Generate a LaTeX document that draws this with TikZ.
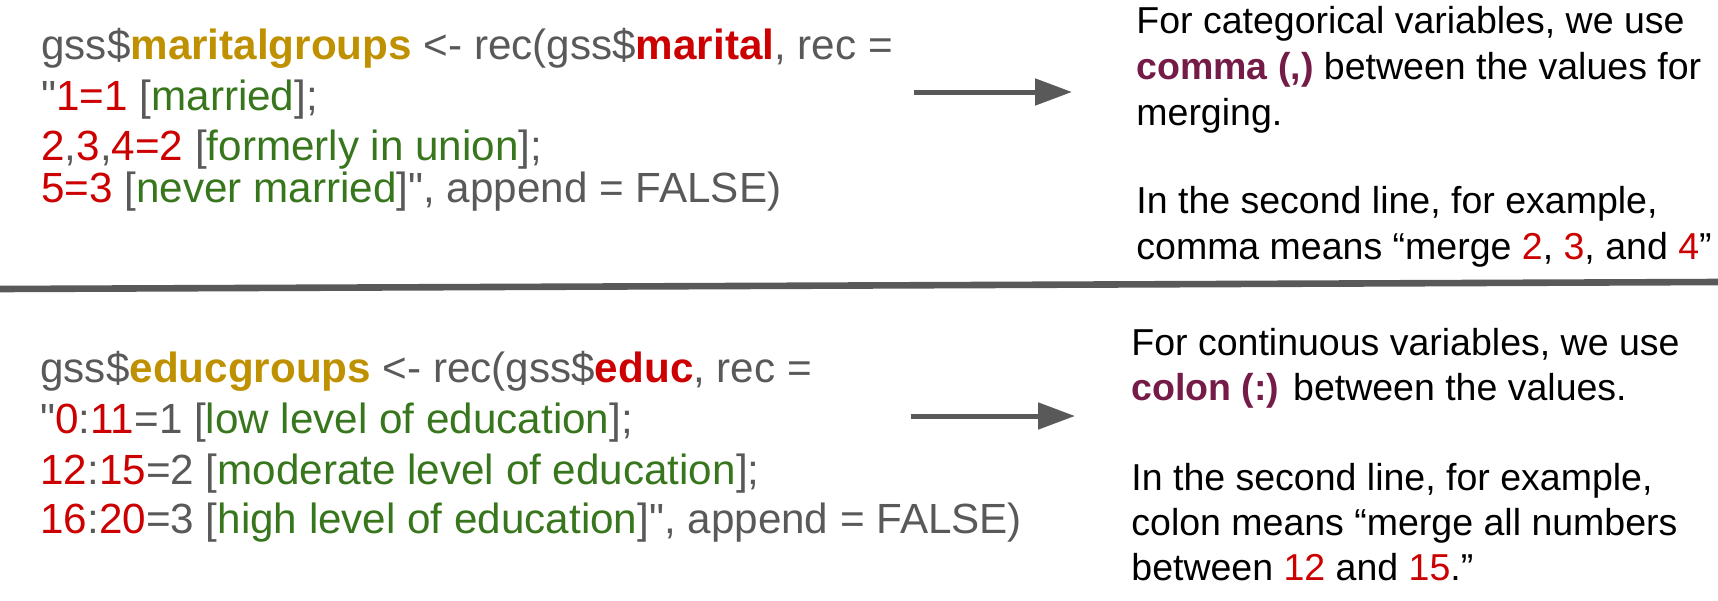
\documentclass[tikz,border=0pt]{standalone}
\usepackage{fontspec}
\setmainfont{Liberation Sans}[Ligatures=TeXOff]
\usetikzlibrary{arrows.meta}
\definecolor{codegray}{HTML}{595959}
\definecolor{codegold}{HTML}{BF9000}
\definecolor{codered}{HTML}{CC0000}
\definecolor{codegreen}{HTML}{38761D}
\definecolor{plum}{HTML}{741B47}
\def\cgold#1{\textcolor{codegold}{\bfseries #1}}
\def\cbred#1{\textcolor{codered}{\bfseries #1}}
\def\cred#1{\textcolor{codered}{#1}}
\def\cgreen#1{\textcolor{codegreen}{#1}}
\def\cplum#1{\textcolor{plum}{\bfseries #1}}

\begin{document}
\begin{tikzpicture}[x=0.5pt, y=-0.5pt,
	code/.style={anchor=base west, inner sep=0pt, text=codegray, font=\fontsize{21.1}{25}\selectfont},
	note/.style={anchor=base west, inner sep=0pt, text=black, font=\fontsize{18.75}{23}\selectfont},
	arr/.style={draw=codegray, line width=2.5pt, -{Triangle[length=18.5pt, width=13pt]}}]
			%%%%% START %%%%%
			\useasboundingbox (0,0) rectangle (1718,600);
			
			% upper half: categorical
			\node[code] (m1) at (41,59) {gss\$\cgold{maritalgroups} <- rec(gss\$\cbred{marital}, rec =};
			\node[code] (m2) at (41,110) {"\cred{1=1} [\cgreen{married}];};
			\node[code] (m3) at (41,160) {\cred{2},\cred{3},\cred{4=2} [\cgreen{formerly in union}];};
			\node[code] (m4) at (41,202) {\cred{5=3} [\cgreen{never married}]", append = FALSE)};
			
			\node[note] (c1) at (1136,33) {For categorical variables, we use};
			\node[note] (c2) at (1136,79) {\cplum{comma (,)} between the values for};
			\node[note] (c3) at (1136,125) {merging.};
			\node[note] (c4) at (1136,213) {In the second line, for example,};
			\node[note] (c5) at (1136,259) {comma means “merge \cred{2}, \cred{3}, and \cred{4}”};
			
			\coordinate (a1) at (914,92);
			\coordinate (b1) at (1072,92);
			\draw[arr] (a1) -- (b1);
			
			% divider
			\coordinate (dl) at (0,289);
			\coordinate (dr) at (1718,282);
			\draw[codegray, line width=3.3pt] (dl) -- (dr);
			
			% lower half: continuous
			\node[code] (e1) at (40,382) {gss\$\cgold{educgroups} <- rec(gss\$\cbred{educ}, rec =};
			\node[code] (e2) at (40,433) {"\cred{0}:\cred{11}=1 [\cgreen{low level of education}];};
			\node[code] (e3) at (40,484) {\cred{12}:\cred{15}=2 [\cgreen{moderate level of education}];};
			\node[code] (e4) at (40,533) {\cred{16}:\cred{20}=3 [\cgreen{high level of education}]", append = FALSE)};
			
			\node[note] (k1) at (1131,355) {For continuous variables, we use};
			\node[note] (k2) at (1131,400) {\cplum{colon (:)} between the values.};
			\node[note] (k3) at (1131,490) {In the second line, for example,};
			\node[note] (k4) at (1131,535) {colon means “merge all numbers};
			\node[note] (k5) at (1131,580) {between \cred{12} and \cred{15}.”};
			
			\coordinate (a2) at (911,416);
			\coordinate (b2) at (1075,416);
			\draw[arr] (a2) -- (b2);
			%%%%% END %%%%%
\end{tikzpicture}
\end{document}
